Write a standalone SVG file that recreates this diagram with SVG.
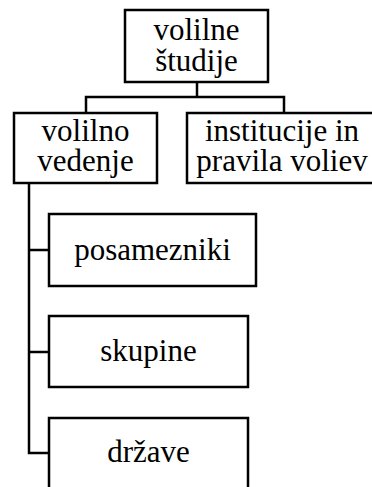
<svg xmlns="http://www.w3.org/2000/svg" width="372" height="487" viewBox="0 0 372 487">
<style>
rect{fill:#fff;stroke:#000;stroke-width:2.5}
.c{fill:none;stroke:#000;stroke-width:2.5}
.t{font-family:'Liberation Serif','DejaVu Serif',serif;font-size:31px;fill:#000;text-anchor:middle}
</style>
<rect x="0" y="0" width="372" height="487" style="stroke:none"/>
<g id="connectors">
<path class="c" d="M197,82V97M86,113V97H284V113"/>
<path class="c" d="M29,183V453H49M29,250H49M29,352H49"/>
</g>
<g id="n-volilne-studije">
<rect x="125" y="10" width="143" height="72"/>
<text class="t" x="196.5" y="40">volilne</text>
<text class="t" x="196.5" y="71">študije</text>
</g>
<g id="n-volilno-vedenje">
<rect x="14" y="113" width="143" height="70"/>
<text class="t" x="85.5" y="141">volilno</text>
<text class="t" x="85.5" y="171">vedenje</text>
</g>
<g id="n-institucije">
<rect x="187" y="113" width="192" height="70"/>
<text class="t" x="282" y="141">institucije in</text>
<text class="t" x="282" y="171">pravila voliev</text>
</g>
<g id="n-posamezniki">
<rect x="49" y="214" width="207" height="72"/>
<text class="t" x="152.5" y="260">posamezniki</text>
</g>
<g id="n-skupine">
<rect x="49" y="316" width="199" height="71"/>
<text class="t" x="148.5" y="361">skupine</text>
</g>
<g id="n-drzave">
<rect x="49" y="418" width="199" height="80"/>
<text class="t" x="148.5" y="462">države</text>
</g>
</svg>
